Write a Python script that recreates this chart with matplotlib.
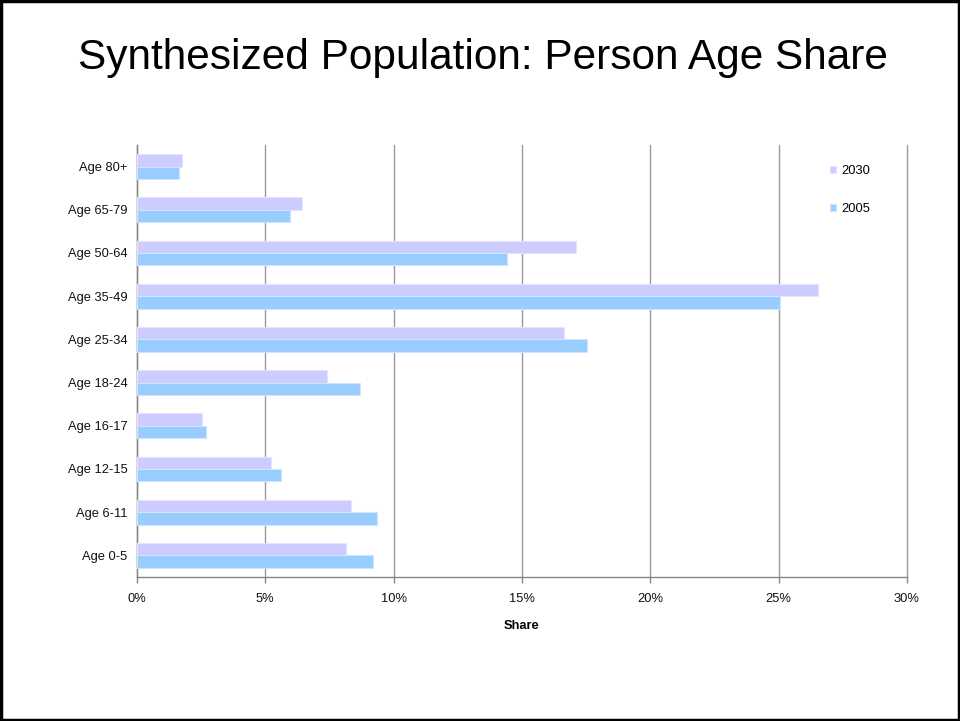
import matplotlib
matplotlib.use("Agg")
import matplotlib.pyplot as plt
import numpy as np
from matplotlib.patches import Rectangle
from matplotlib.ticker import FuncFormatter

plt.rcParams['font.family'] = ['Liberation Sans', 'DejaVu Sans']

categories = ["Age 80+", "Age 65-79", "Age 50-64", "Age 35-49", "Age 25-34",
              "Age 18-24", "Age 16-17", "Age 12-15", "Age 6-11", "Age 0-5"]
share_2030 = [1.76, 6.42, 17.11, 26.52, 16.63, 7.42, 2.55, 5.22, 8.35, 8.14]
share_2005 = [1.64, 5.97, 14.41, 25.06, 17.52, 8.68, 2.70, 5.61, 9.34, 9.18]
series_labels = ["2030", "2005"]
xticks = [0, 5, 10, 15, 20, 25, 30]

c2030 = "#CCCCFF"
c2005 = "#99CCFF"

fig = plt.figure(figsize=(9.6, 7.21), dpi=100)
fig.patches.append(Rectangle((0.0015, 0.002), 0.997, 0.996, transform=fig.transFigure,
                             fill=False, edgecolor="black", linewidth=2.5, zorder=10))

ax = fig.add_axes([137/960, 1-577/721, 770/960, 432/721])

y = np.arange(len(categories))
h = 0.285
ax.barh(y - h/2, share_2030, height=h, color=c2030, edgecolor="#E4E4FF",
        linewidth=0.8, label=series_labels[0], zorder=3)
ax.barh(y + h/2, share_2005, height=h, color=c2005, edgecolor="#CCE6FF",
        linewidth=0.8, label=series_labels[1], zorder=3)

ax.set_ylim(len(categories) - 0.5, -0.5)
ax.set_xlim(0, 30)
ax.set_xticks(xticks)
ax.xaxis.set_major_formatter(FuncFormatter(lambda v, p: f"{int(v)}%"))
ax.set_yticks(y)
ax.set_yticklabels(categories)

ax.grid(axis="x", color="#999999", linewidth=1.0, zorder=0)
for gl in ax.get_xgridlines():
    gl.set_clip_on(False)
for s in ["top", "right"]:
    ax.spines[s].set_visible(False)
for s in ["left", "bottom"]:
    ax.spines[s].set_color("#888888")
    ax.spines[s].set_linewidth(1.0)
ax.tick_params(axis="y", length=0, pad=7, labelsize=9.3, labelcolor="#111111")
ax.tick_params(axis="x", length=4, width=1, color="#888888", pad=7.5, labelsize=9.3,
               labelcolor="#111111")

ax.set_xlabel("Share", fontsize=9.3, fontweight="bold", labelpad=10.5)

fig.text(483/960, 1-69/721, "Synthesized Population: Person Age Share",
         ha="center", va="baseline", fontsize=30.5, color="black")

leg = ax.legend(loc="upper left", bbox_to_anchor=(830/960, 1-165/721),
                bbox_transform=fig.transFigure, frameon=False, fontsize=9.3,
                borderpad=0, borderaxespad=0, handlelength=0.5, handleheight=0.5,
                handletextpad=0.35, labelspacing=2.0)

fig.savefig("out.png", dpi=100)
